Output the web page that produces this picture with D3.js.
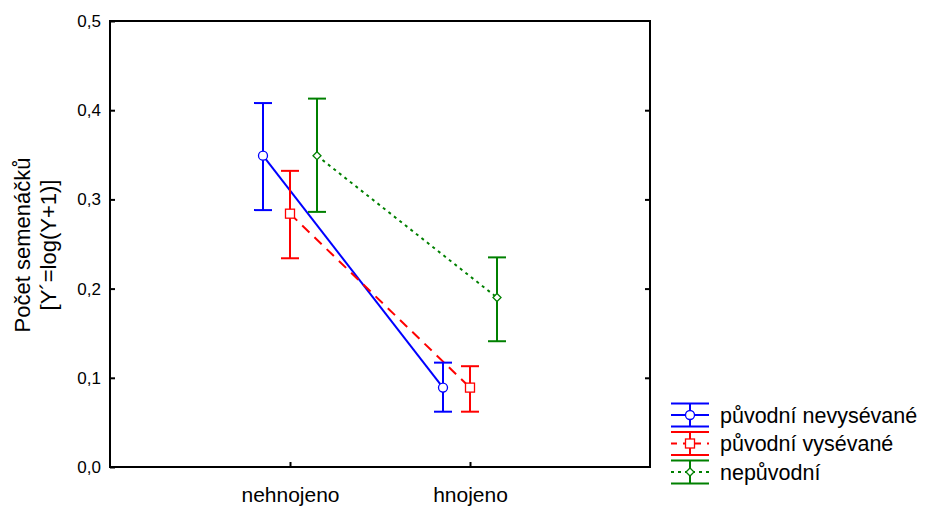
<!DOCTYPE html>
<html>
<head>
<meta charset="utf-8">
<script src="https://cdn.jsdelivr.net/npm/d3@7"></script>
<style>
  body { margin: 0; background: #fff; }
  text { font-family: Arial, "Liberation Sans", sans-serif; fill: #000; }
</style>
</head>
<body>
<script>
// data
var categories = ["nehnojeno", "hnojeno"];
var seriesNames = ["původní nevysévané", "původní vysévané", "nepůvodní"];
var means = [
  [0.349, 0.089],
  [0.284, 0.089],
  [0.349, 0.190]
];
var upper = [
  [0.408, 0.117],
  [0.332, 0.113],
  [0.413, 0.235]
];
var lower = [
  [0.288, 0.062],
  [0.234, 0.062],
  [0.286, 0.141]
];
var yTicks = [0, 0.1, 0.2, 0.3, 0.4, 0.5];

var colors = ["#0000ff", "#ff0000", "#008000"];
var dashes = [null, "10,7", "3,4"];
var shapes = ["circle", "square", "diamond"];

var width = 926, height = 506;
var margin = { left: 110, right: 276, top: 21, bottom: 39 };

var svg = d3.select("body").append("svg")
  .attr("width", width)
  .attr("height", height);

var x = d3.scalePoint()
  .domain(categories)
  .range([margin.left, width - margin.right])
  .padding(1);

var offset = d3.scalePoint()
  .domain(seriesNames)
  .range([-27, 27]);

var y = d3.scaleLinear()
  .domain([0, 0.5])
  .range([height - margin.bottom, margin.top]);

var fmt = d => d3.format(".1f")(d).replace(".", ",");

// frame
svg.append("rect")
  .attr("x", margin.left)
  .attr("y", margin.top)
  .attr("width", width - margin.left - margin.right)
  .attr("height", height - margin.top - margin.bottom)
  .attr("fill", "none")
  .attr("stroke", "#000")
  .attr("stroke-width", 2);

// axes
var yAxis = svg.append("g")
  .attr("transform", "translate(" + margin.left + ",0)")
  .call(d3.axisLeft(y).tickValues(yTicks).tickFormat(fmt).tickSizeInner(-5).tickSizeOuter(0).tickPadding(9));
yAxis.select(".domain").remove();
yAxis.selectAll("text").style("font-size", "17px");
yAxis.selectAll("line").attr("stroke-width", 2);

var yAxisR = svg.append("g")
  .attr("transform", "translate(" + (width - margin.right) + ",0)")
  .call(d3.axisRight(y).tickValues(yTicks.slice(1, 5)).tickFormat("").tickSizeInner(-5).tickSizeOuter(0));
yAxisR.select(".domain").remove();
yAxisR.selectAll("line").attr("stroke-width", 2);

var xAxis = svg.append("g")
  .attr("transform", "translate(0," + (height - margin.bottom) + ")")
  .call(d3.axisBottom(x).tickSizeInner(-5).tickSizeOuter(0).tickPadding(20));
xAxis.select(".domain").remove();
xAxis.selectAll("text").style("font-size", "21px");
xAxis.selectAll("line").attr("stroke-width", 2);

// y title
var yTitle = svg.append("text")
  .attr("transform", "translate(30,245) rotate(-90)")
  .attr("text-anchor", "middle")
  .style("font-size", "22px");
yTitle.append("tspan").attr("x", 0).attr("dy", 0).text("Počet semenáčků");
yTitle.append("tspan").attr("x", 0).attr("dy", 26).text("[Y´=log(Y+1)]");

function drawMarker(g, shape, cx, cy, color) {
  if (shape === "circle") {
    g.append("circle").attr("cx", cx).attr("cy", cy).attr("r", 4.5)
      .attr("fill", "#fff").attr("stroke", color).attr("stroke-width", 1.3);
  } else if (shape === "square") {
    g.append("rect").attr("x", cx - 4.5).attr("y", cy - 4.5).attr("width", 9).attr("height", 9)
      .attr("fill", "#fff").attr("stroke", color).attr("stroke-width", 1.3);
  } else {
    g.append("path").attr("d", "M" + cx + "," + (cy - 4) + "L" + (cx + 4) + "," + cy + "L" + cx + "," + (cy + 4) + "L" + (cx - 4) + "," + cy + "Z")
      .attr("fill", "#fff").attr("stroke", color).attr("stroke-width", 1.3);
  }
}

var line = d3.line()
  .x(d => d[0])
  .y(d => d[1]);

var plot = svg.append("g");

seriesNames.forEach(function (name, s) {
  var pts = categories.map((c, i) => [x(c) + offset(name), y(means[s][i])]);
  plot.append("path")
    .datum(pts)
    .attr("d", line)
    .attr("fill", "none")
    .attr("stroke", colors[s])
    .attr("stroke-width", 2)
    .attr("stroke-dasharray", dashes[s]);
});

seriesNames.forEach(function (name, s) {
  var g = plot.append("g");
  categories.forEach(function (c, i) {
    var cx = x(c) + offset(name);
    var yu = y(upper[s][i]), yl = y(lower[s][i]);
    g.append("line").attr("x1", cx).attr("x2", cx).attr("y1", yu).attr("y2", yl)
      .attr("stroke", colors[s]).attr("stroke-width", 2);
    [yu, yl].forEach(function (yy) {
      g.append("line").attr("x1", cx - 9).attr("x2", cx + 9).attr("y1", yy).attr("y2", yy)
        .attr("stroke", colors[s]).attr("stroke-width", 2);
    });
    drawMarker(g, shapes[s], cx, y(means[s][i]), colors[s]);
  });
});

// legend
var legend = svg.append("g").attr("transform", "translate(671,415)");
seriesNames.forEach(function (name, s) {
  var g = legend.append("g").attr("transform", "translate(0," + (s * 28.5) + ")");
  [-11.5, 11.5].forEach(function (yy) {
    g.append("line").attr("x1", 0).attr("x2", 38).attr("y1", yy).attr("y2", yy)
      .attr("stroke", colors[s]).attr("stroke-width", 2);
  });
  g.append("line").attr("x1", 19).attr("x2", 19).attr("y1", -11.5).attr("y2", 11.5)
    .attr("stroke", colors[s]).attr("stroke-width", 2);
  g.append("line").attr("x1", 0).attr("x2", 38).attr("y1", 0).attr("y2", 0)
    .attr("stroke", colors[s]).attr("stroke-width", 2)
    .attr("stroke-dasharray", s === 1 ? "6,6" : dashes[s]);
  drawMarker(g, shapes[s], 19, 0, colors[s]);
  g.append("text").attr("x", 49).attr("y", 0).attr("dy", "0.35em")
    .style("font-size", "21.5px").text(name);
});
</script>
</body>
</html>
